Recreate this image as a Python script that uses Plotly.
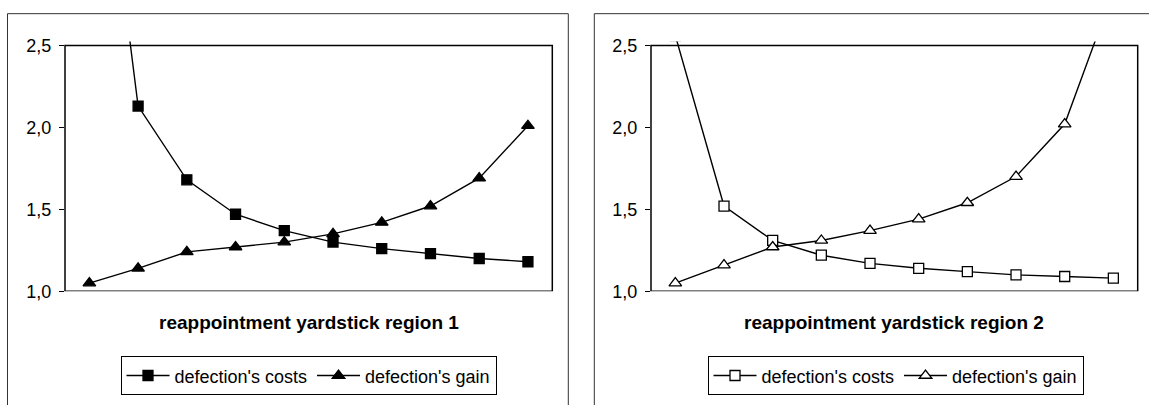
import plotly.graph_objects as go

W, H = 1149, 405

# ---- data ----
steps = [1, 2, 3, 4, 5, 6, 7, 8, 9, 10]
region1_costs = [4.49, 2.13, 1.68, 1.47, 1.37, 1.30, 1.26, 1.23, 1.20, 1.18]
region1_gain = [1.05, 1.14, 1.24, 1.27, 1.30, 1.35, 1.42, 1.52, 1.69, 2.01]
region2_costs = [2.56, 1.52, 1.31, 1.22, 1.17, 1.14, 1.12, 1.10, 1.09, 1.08]
region2_gain = [1.05, 1.16, 1.27, 1.31, 1.37, 1.44, 1.54, 1.70, 2.02, 2.83]
series_names = ["defection's costs", "defection's gain"]
panel_titles = ["reappointment yardstick region 1", "reappointment yardstick region 2"]
y_ticks = [1.0, 1.5, 2.0, 2.5]

FONT = "Liberation Sans, Arial, sans-serif"
LINE_W = 1.4

# pixel geometry
def px_x(v):
    return v / W

def px_y(v):
    return (H - v) / H

left_dom = [px_x(65), px_x(552.3)]
right_dom = [px_x(651), px_x(1137.7)]
y_dom = [px_y(297), px_y(37)]
y_top = 2.5 + 4 / 170.0

fig = go.Figure()

def add_series(xa, ya, costs, gain, filled, legend):
    fill = "black" if filled else "white"
    fig.add_trace(go.Scatter(
        x=steps, y=costs, xaxis=xa, yaxis=ya, mode="lines+markers",
        name=series_names[0], legend=legend,
        line=dict(color="black", width=LINE_W),
        marker=dict(symbol="square", size=10, color=fill,
                    line=dict(color="black", width=1.3)),
    ))
    fig.add_trace(go.Scatter(
        x=steps, y=gain, xaxis=xa, yaxis=ya, mode="lines+markers",
        name=series_names[1], legend=legend,
        line=dict(color="black", width=LINE_W),
        marker=dict(symbol="triangle-up", size=11, color=fill,
                    line=dict(color="black", width=1.3)),
    ))

add_series("x", "y", region1_costs, region1_gain, True, "legend")
add_series("x2", "y2", region2_costs, region2_gain, False, "legend2")

xcommon = dict(range=[0.5, 10.5], showgrid=False, zeroline=False,
               showline=False, showticklabels=False, ticks="")
ycommon = dict(range=[1.0, y_top], domain=y_dom, tickvals=y_ticks,
               tickformat=".1f", showgrid=False, zeroline=False,
               showline=False, ticks="outside", ticklen=5, tickcolor="black",
               tickwidth=1, ticklabelstandoff=4,
               tickfont=dict(family=FONT, size=18, color="black"))

legend_common = dict(orientation="h", xanchor="center", y=px_y(385),
                     yanchor="middle", bgcolor="white", bordercolor="black",
                     borderwidth=1, itemwidth=43, tracegroupgap=0,
                     font=dict(family=FONT, size=18, color="black"))

fig.update_layout(
    width=W, height=H,
    margin=dict(l=0, r=0, t=0, b=0),
    paper_bgcolor="white", plot_bgcolor="white",
    separators=",.",
    font=dict(family=FONT, color="black"),
    xaxis=dict(domain=left_dom, anchor="y", **xcommon),
    yaxis=dict(anchor="x", **ycommon),
    xaxis2=dict(domain=right_dom, anchor="y2", **xcommon),
    yaxis2=dict(anchor="x2", **ycommon),
    legend=dict(x=(118 + 499) / 2 / W, **legend_common),
    legend2=dict(x=(704 + 1087) / 2 / W, **legend_common),
)

# plot-area frames
for xr, yr in (("x domain", "y"), ("x2 domain", "y2")):
    fig.add_shape(type="rect", xref=xr, yref=yr, x0=0, x1=1, y0=1.0, y1=2.5,
                  line=dict(color="black", width=1.5), layer="below")

# outer chart frames
fig.add_shape(type="rect", xref="paper", yref="paper",
              x0=px_x(7.5), x1=px_x(568.3), y0=-0.1, y1=px_y(8),
              line=dict(color="#333333", width=1), layer="below")
fig.add_shape(type="rect", xref="paper", yref="paper",
              x0=px_x(594.3), x1=1.1, y0=-0.1, y1=px_y(8),
              line=dict(color="#333333", width=1), layer="below")

# x-axis titles
for dom, txt in ((left_dom, panel_titles[0]), (right_dom, panel_titles[1])):
    fig.add_annotation(text="<b>" + txt + "</b>", xref="paper", yref="paper",
                       x=(dom[0] + dom[1]) / 2, y=px_y(330), xanchor="center",
                       yanchor="middle", showarrow=False,
                       font=dict(family=FONT, size=19, color="black"))

fig.write_html("out.html")
